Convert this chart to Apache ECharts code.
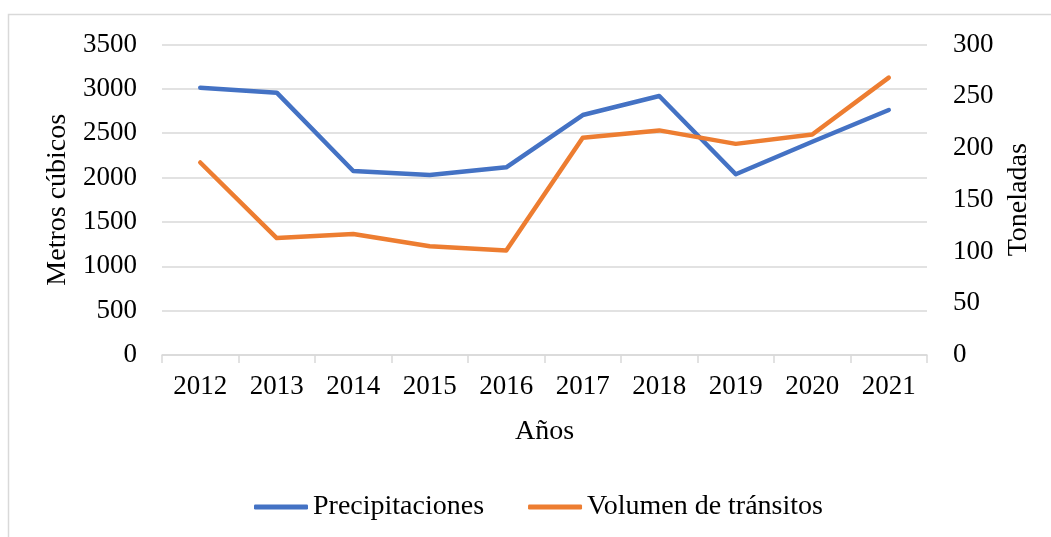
<!DOCTYPE html>
<html>
<head>
<meta charset="utf-8">
<script src="https://cdn.jsdelivr.net/npm/echarts@6/dist/echarts.min.js"></script>
<style>
html,body{margin:0;padding:0;background:#fff;}
#chart{width:1051px;height:537px;}
</style>
</head>
<body>
<div id="chart"></div>
<script>
const years = ['2012','2013','2014','2015','2016','2017','2018','2019','2020','2021'];
const precipitaciones = [3013, 2957, 2074, 2029, 2116, 2705, 2919, 2037, 2404, 2762];
const volumenTransitos = [186, 113, 117, 105, 101, 210, 217, 204, 213, 268];
const leftTicks = {min: 0, max: 3500, interval: 500};
const rightTicks = {min: 0, max: 300, interval: 50};

const FONT = '"Liberation Serif", "Times New Roman", serif';
const chart = echarts.init(document.getElementById('chart'), null, {renderer: 'canvas'});
chart.setOption({
  backgroundColor: '#ffffff',
  animation: false,
  textStyle: {fontFamily: FONT, color: '#000'},
  graphic: [{
    type: 'rect',
    shape: {x: 8.5, y: 14.5, width: 1200, height: 800},
    style: {fill: 'none', stroke: '#d9d9d9', lineWidth: 1.5},
    silent: true, z: -10
  }],
  grid: {left: 162, right: 124, top: 44.5, bottom: 182},
  legend: {
    left: 249, top: 488,
    itemWidth: 54, itemHeight: 5, itemGap: 44,
    icon: 'roundRect',
    textStyle: {fontFamily: FONT, fontSize: 28, color: '#000'},
    data: ['Precipitaciones', 'Volumen de tránsitos']
  },
  xAxis: {
    type: 'category',
    data: years,
    boundaryGap: true,
    name: 'Años',
    nameLocation: 'middle',
    nameGap: 63,
    nameTextStyle: {fontFamily: FONT, fontSize: 28, color: '#000'},
    axisLine: {show: true, lineStyle: {color: '#d9d9d9', width: 1.5}},
    axisTick: {show: true, length: 8, lineStyle: {color: '#d9d9d9', width: 1.5}},
    axisLabel: {fontFamily: FONT, fontSize: 27, color: '#000', margin: 18},
    splitLine: {show: false}
  },
  yAxis: [{
    type: 'value',
    min: leftTicks.min, max: leftTicks.max, interval: leftTicks.interval,
    name: 'Metros cúbicos',
    nameLocation: 'middle',
    nameRotate: 90,
    nameGap: 88,
    nameTextStyle: {fontFamily: FONT, fontSize: 28, color: '#000'},
    axisLine: {show: false},
    axisTick: {show: false},
    axisLabel: {fontFamily: FONT, fontSize: 27, color: '#000', margin: 25, formatter: v => String(v)},
    splitLine: {show: true, lineStyle: {color: '#d9d9d9', width: 1.5}}
  }, {
    type: 'value',
    position: 'right',
    min: rightTicks.min, max: rightTicks.max, interval: rightTicks.interval,
    name: 'Toneladas',
    nameLocation: 'middle',
    nameRotate: 90,
    nameGap: 76,
    nameTextStyle: {fontFamily: FONT, fontSize: 28, color: '#000'},
    axisLine: {show: false},
    axisTick: {show: false},
    axisLabel: {fontFamily: FONT, fontSize: 27, color: '#000', margin: 26, formatter: v => String(v)},
    splitLine: {show: false}
  }],
  series: [{
    name: 'Precipitaciones',
    type: 'line',
    yAxisIndex: 0,
    data: precipitaciones,
    symbol: 'none',
    color: '#4472C4',
    lineStyle: {color: '#4472C4', width: 4.5, cap: 'round', join: 'round'}
  }, {
    name: 'Volumen de tránsitos',
    type: 'line',
    yAxisIndex: 1,
    data: volumenTransitos,
    symbol: 'none',
    color: '#ED7D31',
    lineStyle: {color: '#ED7D31', width: 4.5, cap: 'round', join: 'round'}
  }]
});
</script>
</body>
</html>
